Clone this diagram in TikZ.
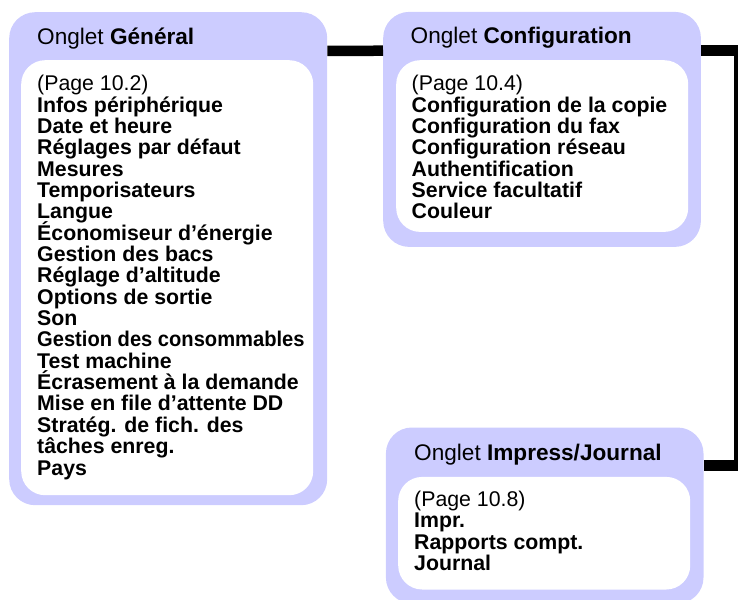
\documentclass[tikz,border=0pt]{standalone}
\usepackage{fontspec}
\setmainfont{Liberation Sans}
\definecolor{lav}{RGB}{204,204,255}
\begin{document}
\begin{tikzpicture}[x=1pt,y=-1pt,
  outerbox/.style={draw=none, fill=lav, rounded corners=26pt, anchor=north west, inner sep=0pt},
  innerbox/.style={draw=none, fill=white, rounded corners=24pt, anchor=north west, inner sep=0pt},
  titletext/.style={anchor=base west, inner sep=0pt, font=\fontsize{22.6}{26}\selectfont},
  itemtext/.style={anchor=base west, inner sep=0pt, font=\fontsize{21.3}{21.35}\selectfont\bfseries},
  pagetext/.style={anchor=base west, inner sep=0pt, font=\fontsize{21.3}{21.35}\selectfont},
  conn/.style={line width=10.5pt, black, line join=miter}
]
\useasboundingbox (0,0) rectangle (738,599);
\begin{scope}
\clip (0,0) rectangle (738,599);
% boxes
\node[outerbox, minimum width=318pt, minimum height=493pt] (gen) at (9,12) {};
\node[innerbox, minimum width=292pt, minimum height=435pt] (genin) at (21,60) {};
\node[outerbox, minimum width=317.7pt, minimum height=235pt] (cfg) at (383,11.7) {};
\node[innerbox, minimum width=292pt, minimum height=171.7pt] (cfgin) at (396,60) {};
\node[outerbox, minimum width=317.6pt, minimum height=176pt] (imp) at (385.7,427.3) {};
\node[innerbox, minimum width=292pt, minimum height=112.6pt] (impin) at (398,476.7) {};
% connectors
\draw[conn] ([yshift=-39pt]gen.north east) -- ([yshift=-39pt]cfg.north west);
\coordinate (turn) at ([xshift=35.2pt,yshift=-38.4pt]imp.north east);
\draw[conn] ([yshift=-39pt]cfg.north east) -| (turn) -- ([yshift=-38.4pt]imp.north east);
\end{scope}
% titles
\node[titletext] (gent) at (37,44.3) {Onglet \textbf{Général}};
\node[titletext] (cfgt) at (410.5,43.3) {Onglet \textbf{Configuration}};
\node[titletext] (impt) at (414,460) {Onglet \textbf{Impress/Journal}};
% general items
\node[pagetext] (genp) at (37,90.7) {(Page 10.2)};
\foreach \t [count=\i from 1] in {{Infos périphérique},{Date et heure},{Réglages par défaut},{Mesures},{Temporisateurs},{Langue},{Économiseur d’énergie},{Gestion des bacs},{Réglage d’altitude},{Options de sortie},{Son},{\scalebox{0.945}[1]{Gestion des consommables}},{Test machine},{Écrasement à la demande},{Mise en file d’attente DD},{Stratég. de fich. des},{tâches enreg.},{Pays}}
  \node[itemtext] (gen\i) at (37,{90.7+21.35*\i}) {\t};
% configuration items
\node[pagetext] (cfgp) at (411.5,90.7) {(Page 10.4)};
\foreach \t [count=\i from 1] in {{Configuration de la copie},{Configuration du fax},{Configuration réseau},{Authentification},{Service facultatif},{Couleur}}
  \node[itemtext] (cfg\i) at (411.5,{90.7+21.35*\i}) {\t};
% impress items
\node[pagetext] (impp) at (414,506.7) {(Page 10.8)};
\foreach \t [count=\i from 1] in {{Impr.},{Rapports compt.},{Journal}}
  \node[itemtext] (imp\i) at (414,{506.7+21.2*\i}) {\t};
\end{tikzpicture}
\end{document}
